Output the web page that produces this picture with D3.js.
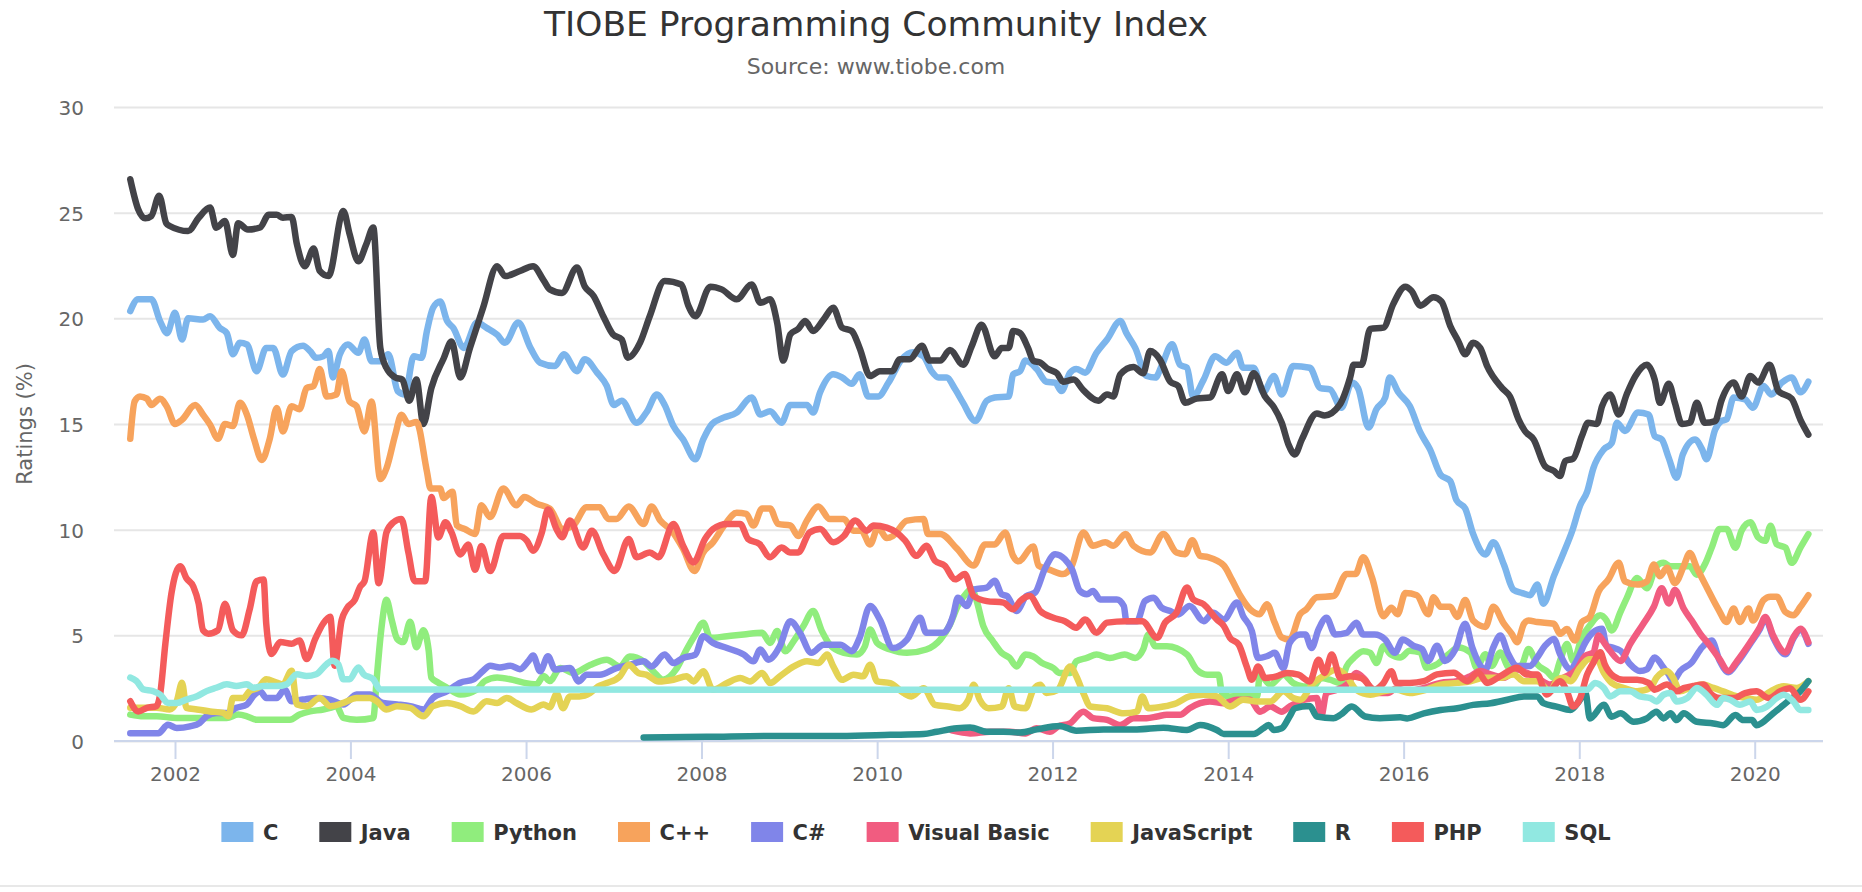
<!DOCTYPE html>
<html><head><meta charset="utf-8">
<script src="https://cdn.jsdelivr.net/npm/d3@7/dist/d3.min.js"></script>
<style>body{margin:0;background:#fff}svg{display:block}text{font-family:"DejaVu Sans",sans-serif}</style>
</head><body><svg id="c" width="1862" height="892"></svg>
<script>
const seriesNames = ["C","Java","Python","C++","C#","Visual Basic","JavaScript","R","PHP","SQL"];
const seriesColors = ["#7cb5ec","#434348","#90ed7d","#f7a35c","#8085e9","#f15c80","#e4d354","#2b908f","#f45b5b","#91e8e1"];
const yTicks = [0,5,10,15,20,25,30];
const xTickYears = [2002,2004,2006,2008,2010,2012,2014,2016,2018,2020];

const cData = [[2001.49,20.34],[2001.58,20.9],[2001.73,20.9],[2001.83,19.87],[2001.91,19.3],[2002.0,20.26],[2002.08,19.0],[2002.15,20.0],[2002.32,19.94],[2002.4,20.1],[2002.51,19.55],[2002.59,19.3],[2002.66,18.3],[2002.74,18.84],[2002.82,18.76],[2002.93,17.5],[2003.04,18.6],[2003.12,18.6],[2003.23,17.34],[2003.33,18.45],[2003.46,18.7],[2003.54,18.45],[2003.61,18.13],[2003.69,18.2],[2003.75,18.45],[2003.8,17.2],[2003.88,18.3],[2003.97,18.76],[2004.09,18.37],[2004.16,19.0],[2004.24,17.97],[2004.34,17.97],[2004.43,18.3],[2004.54,16.55],[2004.62,16.4],[2004.72,18.2],[2004.81,18.13],[2004.87,19.4],[2004.94,20.5],[2005.02,20.8],[2005.1,19.87],[2005.17,19.55],[2005.29,18.6],[2005.44,19.8],[2005.55,19.55],[2005.67,19.23],[2005.76,18.84],[2005.91,19.8],[2006.05,18.6],[2006.16,17.9],[2006.33,17.74],[2006.43,18.3],[2006.58,17.5],[2006.67,18.06],[2006.81,17.43],[2006.92,16.8],[2007.0,15.9],[2007.09,16.1],[2007.26,15.06],[2007.38,15.6],[2007.49,16.4],[2007.58,15.9],[2007.68,14.9],[2007.79,14.27],[2007.93,13.33],[2008.02,14.27],[2008.12,15.0],[2008.25,15.3],[2008.4,15.54],[2008.57,16.25],[2008.67,15.45],[2008.78,15.6],[2008.91,15.06],[2009.01,15.9],[2009.2,15.9],[2009.27,15.54],[2009.35,16.5],[2009.5,17.35],[2009.6,17.2],[2009.71,16.9],[2009.8,17.35],[2009.9,16.3],[2010.01,16.3],[2010.13,16.96],[2010.28,18.06],[2010.41,18.4],[2010.53,18.2],[2010.62,17.5],[2010.7,17.2],[2010.79,17.2],[2010.89,16.64],[2010.98,16.0],[2011.12,15.14],[2011.25,16.1],[2011.34,16.25],[2011.5,16.3],[2011.55,17.35],[2011.63,17.5],[2011.69,18.0],[2011.82,17.6],[2011.93,17.0],[2012.03,16.96],[2012.1,16.56],[2012.2,17.43],[2012.27,17.6],[2012.37,17.43],[2012.5,18.37],[2012.62,19.0],[2012.77,19.87],[2012.84,19.3],[2012.94,18.6],[2013.07,17.27],[2013.17,17.2],[2013.24,17.74],[2013.36,18.77],[2013.45,17.8],[2013.53,17.66],[2013.6,16.3],[2013.72,17.1],[2013.85,18.2],[2013.98,17.9],[2014.1,18.37],[2014.17,17.66],[2014.29,17.66],[2014.4,16.5],[2014.52,17.27],[2014.61,16.4],[2014.74,17.74],[2014.93,17.66],[2015.05,16.7],[2015.16,16.64],[2015.29,15.77],[2015.41,16.96],[2015.48,16.7],[2015.6,14.83],[2015.69,15.7],[2015.79,16.25],[2015.84,17.2],[2015.94,16.5],[2016.07,15.85],[2016.19,14.6],[2016.3,13.8],[2016.42,12.6],[2016.53,12.3],[2016.6,11.4],[2016.7,11.0],[2016.79,9.8],[2016.93,8.83],[2017.02,9.4],[2017.14,8.35],[2017.25,7.15],[2017.35,7.0],[2017.44,6.9],[2017.52,7.4],[2017.59,6.5],[2017.71,7.8],[2017.82,8.9],[2017.92,9.95],[2018.01,11.15],[2018.09,11.8],[2018.16,12.9],[2018.28,13.8],[2018.37,14.1],[2018.43,15.06],[2018.52,14.67],[2018.67,15.54],[2018.79,15.45],[2018.86,14.43],[2018.94,14.27],[2019.02,13.4],[2019.11,12.46],[2019.18,13.56],[2019.32,14.27],[2019.4,13.8],[2019.45,13.33],[2019.55,14.75],[2019.62,15.14],[2019.68,15.22],[2019.76,16.25],[2019.89,16.17],[2019.98,15.77],[2020.1,16.8],[2020.19,16.4],[2020.31,16.96],[2020.42,17.2],[2020.52,16.5],[2020.61,17.0]];

const javaData = [[2001.49,26.58],[2001.58,25.16],[2001.66,24.73],[2001.73,24.84],[2001.82,25.8],[2001.9,24.5],[2001.94,24.37],[2002.15,24.13],[2002.27,24.76],[2002.4,25.24],[2002.47,24.29],[2002.57,24.6],[2002.66,23.0],[2002.72,24.5],[2002.83,24.2],[2002.97,24.3],[2003.07,24.9],[2003.16,24.9],[2003.23,24.76],[2003.33,24.8],[2003.39,23.5],[2003.48,22.47],[2003.58,23.3],[2003.65,22.24],[2003.75,22.0],[2003.92,25.08],[2003.99,24.0],[2004.09,22.7],[2004.18,23.5],[2004.26,24.3],[2004.34,18.6],[2004.41,17.65],[2004.51,17.2],[2004.59,17.1],[2004.67,16.1],[2004.75,17.1],[2004.83,15.0],[2004.92,16.7],[2005.06,18.1],[2005.15,18.9],[2005.25,17.2],[2005.36,18.6],[2005.51,20.5],[2005.67,22.47],[2005.76,22.0],[2005.93,22.24],[2006.08,22.47],[2006.2,21.8],[2006.27,21.37],[2006.41,21.2],[2006.58,22.4],[2006.67,21.5],[2006.77,21.06],[2006.88,20.1],[2006.99,19.24],[2007.09,19.0],[2007.16,18.14],[2007.3,18.85],[2007.41,20.1],[2007.58,21.77],[2007.77,21.6],[2007.85,20.6],[2007.93,20.1],[2008.1,21.5],[2008.23,21.37],[2008.4,20.9],[2008.57,21.6],[2008.67,20.74],[2008.78,20.9],[2008.86,19.8],[2008.93,18.0],[2009.01,19.24],[2009.1,19.5],[2009.18,19.87],[2009.27,19.4],[2009.39,19.95],[2009.5,20.5],[2009.6,19.56],[2009.71,19.4],[2009.8,18.6],[2009.92,17.27],[2010.03,17.5],[2010.17,17.5],[2010.26,18.06],[2010.37,18.06],[2010.51,18.7],[2010.6,18.0],[2010.72,18.0],[2010.83,18.5],[2010.98,17.8],[2011.08,18.7],[2011.19,19.7],[2011.34,18.2],[2011.42,18.6],[2011.5,18.6],[2011.55,19.4],[2011.63,19.3],[2011.72,18.6],[2011.78,18.0],[2011.86,17.9],[2011.95,17.6],[2012.05,17.4],[2012.12,17.0],[2012.24,17.1],[2012.35,16.6],[2012.52,16.1],[2012.62,16.4],[2012.69,16.3],[2012.77,17.35],[2012.92,17.7],[2013.03,17.4],[2013.11,18.45],[2013.22,18.06],[2013.34,17.0],[2013.43,16.8],[2013.51,16.0],[2013.64,16.2],[2013.79,16.25],[2013.93,17.35],[2014.0,16.56],[2014.1,17.35],[2014.19,16.5],[2014.29,17.4],[2014.42,16.3],[2014.52,15.8],[2014.61,15.06],[2014.69,14.0],[2014.76,13.56],[2014.84,14.27],[2015.01,15.5],[2015.1,15.4],[2015.27,15.9],[2015.39,17.2],[2015.43,17.8],[2015.52,17.8],[2015.62,19.5],[2015.77,19.56],[2015.88,20.66],[2016.02,21.5],[2016.09,21.3],[2016.19,20.6],[2016.34,21.0],[2016.43,20.8],[2016.53,19.64],[2016.62,18.93],[2016.7,18.3],[2016.79,18.85],[2016.87,18.6],[2016.95,17.74],[2017.12,16.7],[2017.21,16.3],[2017.31,15.2],[2017.38,14.67],[2017.48,14.27],[2017.61,13.0],[2017.71,12.78],[2017.78,12.54],[2017.84,13.25],[2017.93,13.36],[2018.03,14.43],[2018.1,15.06],[2018.2,15.0],[2018.26,15.85],[2018.35,16.4],[2018.45,15.45],[2018.54,16.4],[2018.64,17.27],[2018.77,17.8],[2018.86,17.1],[2018.92,16.0],[2019.02,16.9],[2019.09,16.0],[2019.17,15.0],[2019.26,15.06],[2019.34,16.0],[2019.43,15.06],[2019.55,15.14],[2019.62,16.1],[2019.76,16.96],[2019.85,16.3],[2019.95,17.27],[2020.04,16.96],[2020.17,17.8],[2020.27,16.56],[2020.42,16.2],[2020.52,15.2],[2020.61,14.5]];

const pythonData = [[2001.49,1.25],[2001.64,1.17],[2001.79,1.17],[2002.02,1.09],[2002.4,1.09],[2002.59,1.09],[2002.72,1.25],[2002.82,1.17],[2002.93,1.0],[2003.16,1.0],[2003.31,1.0],[2003.42,1.25],[2003.54,1.4],[2003.69,1.49],[2003.77,1.57],[2003.84,1.65],[2003.92,1.09],[2004.07,1.0],[2004.26,1.09],[2004.3,3.0],[2004.35,5.24],[2004.41,6.68],[2004.47,5.72],[2004.53,4.84],[2004.6,4.68],[2004.68,5.64],[2004.75,4.44],[2004.83,5.24],[2004.89,4.28],[2004.92,3.0],[2005.0,2.76],[2005.1,2.52],[2005.25,2.2],[2005.44,2.44],[2005.53,2.84],[2005.67,3.0],[2005.82,2.92],[2005.97,2.76],[2006.12,2.68],[2006.2,3.08],[2006.27,2.84],[2006.39,3.45],[2006.54,3.22],[2006.73,3.6],[2006.92,3.85],[2007.07,3.53],[2007.18,4.0],[2007.34,3.77],[2007.45,3.3],[2007.56,2.9],[2007.72,3.45],[2007.83,4.33],[2007.93,5.04],[2008.02,5.6],[2008.1,4.88],[2008.29,4.96],[2008.48,5.04],[2008.69,5.12],[2008.78,4.64],[2008.86,5.2],[2008.95,4.25],[2009.06,4.8],[2009.16,5.44],[2009.27,6.15],[2009.37,5.2],[2009.46,4.56],[2009.62,4.17],[2009.77,4.09],[2009.86,4.48],[2009.92,5.28],[2010.0,4.64],[2010.15,4.33],[2010.34,4.17],[2010.56,4.33],[2010.72,4.8],[2010.83,5.5],[2010.92,6.4],[2011.02,7.0],[2011.08,7.2],[2011.13,6.7],[2011.21,5.44],[2011.32,4.72],[2011.42,4.17],[2011.51,3.93],[2011.59,3.53],[2011.69,4.09],[2011.78,4.0],[2011.88,3.69],[2012.01,3.45],[2012.08,3.22],[2012.2,3.22],[2012.27,3.77],[2012.39,3.93],[2012.5,4.09],[2012.65,3.93],[2012.82,4.09],[2012.94,3.93],[2013.03,4.33],[2013.09,5.04],[2013.17,4.48],[2013.3,4.48],[2013.53,4.09],[2013.64,3.38],[2013.76,3.14],[2013.89,3.14],[2013.93,2.25],[2014.02,2.1],[2014.21,2.18],[2014.33,2.1],[2014.36,3.14],[2014.48,2.66],[2014.63,3.14],[2014.74,2.74],[2014.86,2.58],[2014.97,2.58],[2015.06,2.98],[2015.16,2.9],[2015.28,2.74],[2015.35,3.53],[2015.43,3.93],[2015.54,4.25],[2015.62,4.17],[2015.69,3.69],[2015.77,4.48],[2015.85,4.1],[2015.96,3.95],[2016.07,4.27],[2016.19,4.19],[2016.26,3.47],[2016.38,3.63],[2016.51,4.1],[2016.62,4.43],[2016.76,4.19],[2016.83,3.47],[2016.93,4.1],[2017.0,3.55],[2017.1,4.19],[2017.18,3.55],[2017.25,3.3],[2017.35,3.63],[2017.42,4.35],[2017.52,3.63],[2017.63,3.3],[2017.71,2.99],[2017.78,3.79],[2017.86,4.59],[2017.93,3.79],[2018.03,4.91],[2018.12,5.47],[2018.24,5.95],[2018.31,5.71],[2018.37,5.23],[2018.47,6.11],[2018.54,6.75],[2018.66,7.71],[2018.77,7.23],[2018.88,8.27],[2018.96,8.43],[2019.04,8.27],[2019.15,8.27],[2019.26,8.27],[2019.34,7.87],[2019.44,8.43],[2019.51,9.15],[2019.6,10.03],[2019.68,10.03],[2019.78,9.15],[2019.85,9.95],[2019.95,10.35],[2020.04,9.63],[2020.12,9.47],[2020.18,10.19],[2020.25,9.31],[2020.35,9.15],[2020.42,8.43],[2020.52,9.15],[2020.61,9.79]];

const cppData = [[2001.49,14.3],[2001.54,16.07],[2001.6,16.3],[2001.68,16.2],[2001.73,15.9],[2001.83,16.2],[2001.91,15.8],[2002.0,15.0],[2002.08,15.2],[2002.23,15.9],[2002.32,15.44],[2002.4,14.97],[2002.49,14.3],[2002.57,15.0],[2002.66,14.9],[2002.74,16.0],[2002.82,15.44],[2002.9,14.3],[2002.99,13.3],[2003.08,14.3],[2003.16,15.76],[2003.23,14.65],[2003.33,15.84],[2003.42,15.7],[2003.5,16.7],[2003.58,16.8],[2003.65,17.6],[2003.73,16.3],[2003.84,16.4],[2003.9,17.5],[2003.99,16.07],[2004.07,15.84],[2004.16,14.65],[2004.24,16.07],[2004.34,12.4],[2004.41,12.9],[2004.51,14.5],[2004.58,15.44],[2004.66,15.0],[2004.75,15.1],[2004.87,12.75],[2004.91,11.95],[2005.02,11.95],[2005.06,11.5],[2005.16,11.8],[2005.21,10.2],[2005.3,10.03],[2005.42,9.8],[2005.49,11.15],[2005.59,10.6],[2005.74,11.95],[2005.89,11.15],[2005.98,11.55],[2006.12,11.23],[2006.27,11.0],[2006.42,10.03],[2006.54,10.2],[2006.69,11.06],[2006.84,11.06],[2006.94,10.5],[2007.03,10.5],[2007.17,11.1],[2007.34,10.27],[2007.43,11.1],[2007.53,10.43],[2007.66,9.95],[2007.79,9.1],[2007.92,8.05],[2008.02,8.92],[2008.13,9.4],[2008.27,10.27],[2008.4,10.8],[2008.51,10.75],[2008.59,10.2],[2008.69,11.0],[2008.78,11.0],[2008.87,10.27],[2009.01,10.2],[2009.1,9.7],[2009.2,10.43],[2009.33,11.1],[2009.46,10.5],[2009.62,10.5],[2009.73,9.95],[2009.82,9.95],[2009.92,9.3],[2010.01,10.1],[2010.11,9.6],[2010.18,9.7],[2010.34,10.43],[2010.53,10.5],[2010.58,9.8],[2010.72,9.8],[2010.91,9.1],[2011.1,8.3],[2011.23,9.3],[2011.34,9.3],[2011.46,9.87],[2011.55,8.76],[2011.61,8.5],[2011.78,9.2],[2011.84,8.3],[2011.97,8.1],[2012.12,7.9],[2012.22,8.3],[2012.35,9.87],[2012.46,9.24],[2012.6,9.4],[2012.69,9.24],[2012.83,9.8],[2012.92,9.24],[2013.11,8.92],[2013.26,9.8],[2013.41,8.92],[2013.51,8.84],[2013.59,9.5],[2013.68,8.76],[2013.77,8.7],[2013.95,8.3],[2014.04,7.65],[2014.14,6.86],[2014.25,6.23],[2014.36,6.0],[2014.44,6.47],[2014.53,5.6],[2014.61,4.9],[2014.7,4.8],[2014.82,6.0],[2014.89,6.23],[2015.01,6.8],[2015.2,6.86],[2015.35,7.9],[2015.45,7.9],[2015.54,8.7],[2015.64,7.73],[2015.77,5.9],[2015.86,6.3],[2015.93,6.0],[2016.02,7.0],[2016.15,6.9],[2016.28,6.0],[2016.34,6.8],[2016.42,6.35],[2016.53,6.35],[2016.61,5.87],[2016.7,6.67],[2016.79,5.7],[2016.93,5.4],[2017.02,6.35],[2017.14,5.55],[2017.23,5.07],[2017.29,4.67],[2017.37,5.55],[2017.42,5.7],[2017.52,5.63],[2017.71,5.55],[2017.78,5.07],[2017.86,5.3],[2017.95,4.75],[2018.03,5.63],[2018.12,5.87],[2018.22,7.07],[2018.33,7.63],[2018.45,8.43],[2018.52,7.55],[2018.66,7.4],[2018.77,7.55],[2018.85,8.35],[2018.92,7.8],[2019.0,8.2],[2019.09,7.47],[2019.19,8.27],[2019.26,8.9],[2019.34,8.2],[2019.45,7.3],[2019.59,6.2],[2019.68,5.63],[2019.76,6.27],[2019.83,5.63],[2019.93,6.27],[2019.98,5.7],[2020.1,6.67],[2020.18,6.83],[2020.25,6.83],[2020.35,6.1],[2020.44,5.95],[2020.52,6.35],[2020.61,6.9]];

const csharpData = [[2001.49,0.37],[2001.64,0.37],[2001.81,0.37],[2001.92,0.77],[2002.02,0.61],[2002.17,0.69],[2002.28,0.85],[2002.36,1.17],[2002.47,1.33],[2002.59,1.33],[2002.7,1.57],[2002.82,1.73],[2002.89,2.12],[2002.97,2.36],[2003.04,2.04],[2003.16,2.04],[2003.25,2.44],[2003.33,1.88],[2003.46,1.96],[2003.61,2.04],[2003.77,1.96],[2003.92,1.73],[2004.07,2.2],[2004.22,2.2],[2004.37,1.8],[2004.53,1.73],[2004.68,1.65],[2004.83,1.49],[2004.94,2.04],[2005.1,2.36],[2005.25,2.76],[2005.4,2.92],[2005.51,3.32],[2005.59,3.56],[2005.7,3.48],[2005.82,3.56],[2005.93,3.4],[2006.03,3.8],[2006.08,4.04],[2006.16,3.3],[2006.25,4.01],[2006.33,3.38],[2006.5,3.45],[2006.6,2.82],[2006.69,3.14],[2006.84,3.14],[2007.03,3.45],[2007.18,3.6],[2007.34,3.77],[2007.43,3.53],[2007.58,4.09],[2007.68,3.69],[2007.79,3.93],[2007.93,4.09],[2008.02,4.96],[2008.13,4.64],[2008.29,4.4],[2008.48,4.09],[2008.59,3.77],[2008.67,4.33],[2008.76,3.85],[2008.89,4.48],[2009.01,5.67],[2009.12,5.12],[2009.25,4.17],[2009.39,4.56],[2009.58,4.56],[2009.71,4.25],[2009.8,4.88],[2009.92,6.39],[2010.03,5.75],[2010.18,4.4],[2010.34,4.8],[2010.49,5.83],[2010.56,5.12],[2010.75,5.12],[2010.87,5.99],[2010.92,6.78],[2011.02,6.39],[2011.11,7.18],[2011.25,7.26],[2011.34,7.58],[2011.42,6.94],[2011.48,6.86],[2011.59,6.15],[2011.7,6.86],[2011.8,7.02],[2011.91,8.13],[2012.03,8.84],[2012.14,8.6],[2012.22,8.13],[2012.31,7.1],[2012.39,6.94],[2012.46,7.1],[2012.54,6.7],[2012.73,6.7],[2012.81,6.39],[2012.84,5.67],[2012.96,5.67],[2013.05,6.62],[2013.15,6.78],[2013.24,6.31],[2013.34,6.15],[2013.43,5.99],[2013.56,6.39],[2013.72,5.67],[2013.83,6.07],[2013.95,5.75],[2014.1,6.55],[2014.17,5.91],[2014.27,5.2],[2014.34,3.93],[2014.44,4.01],[2014.53,4.17],[2014.63,3.45],[2014.7,4.64],[2014.82,5.04],[2014.88,5.04],[2014.95,4.4],[2015.03,5.28],[2015.12,5.83],[2015.22,5.04],[2015.35,5.12],[2015.46,5.6],[2015.54,5.04],[2015.67,5.04],[2015.79,4.8],[2015.9,4.17],[2015.99,4.8],[2016.11,4.51],[2016.21,4.35],[2016.28,3.79],[2016.38,4.51],[2016.47,3.79],[2016.59,4.35],[2016.7,5.55],[2016.78,4.43],[2016.93,3.39],[2017.02,4.43],[2017.1,4.99],[2017.19,4.11],[2017.29,3.55],[2017.44,3.55],[2017.52,3.95],[2017.61,4.51],[2017.71,4.83],[2017.78,4.11],[2017.9,3.39],[2017.97,3.79],[2018.07,4.67],[2018.16,5.15],[2018.26,5.31],[2018.31,4.51],[2018.37,4.43],[2018.47,4.27],[2018.58,3.63],[2018.69,3.31],[2018.77,3.39],[2018.86,3.95],[2018.96,3.47],[2019.02,3.15],[2019.07,2.83],[2019.15,3.31],[2019.28,3.71],[2019.4,4.43],[2019.51,4.75],[2019.6,3.8],[2019.7,3.25],[2019.8,3.7],[2019.95,4.6],[2020.06,5.3],[2020.12,5.8],[2020.21,4.9],[2020.35,4.1],[2020.44,4.85],[2020.52,5.25],[2020.61,4.6]];

const vbData = [[2010.85,0.5],[2011.06,0.36],[2011.29,0.44],[2011.51,0.44],[2011.69,0.36],[2011.82,0.6],[2011.97,0.44],[2012.06,0.68],[2012.2,0.84],[2012.35,1.39],[2012.46,1.08],[2012.62,1.0],[2012.77,0.76],[2012.92,1.08],[2013.07,1.08],[2013.19,1.16],[2013.3,1.24],[2013.45,1.24],[2013.56,1.55],[2013.68,1.79],[2013.79,1.87],[2013.95,1.79],[2014.1,1.95],[2014.25,1.95],[2014.36,1.39],[2014.48,1.63],[2014.61,1.39],[2014.7,1.63],[2014.86,1.95],[2015.01,2.03],[2015.06,1.16],[2015.12,2.27],[2015.24,2.42],[2015.35,2.66],[2015.46,3.22],[2015.56,2.9],[2015.67,2.27],[2015.82,2.27],[2015.92,2.5],[2016.04,2.35],[2016.23,2.51],[2016.42,2.75],[2016.61,2.83],[2016.76,3.07],[2016.87,3.31],[2016.99,3.15],[2017.14,2.99],[2017.29,3.39],[2017.4,3.23],[2017.52,2.99],[2017.67,2.67],[2017.82,2.99],[2017.97,3.39],[2018.07,4.03],[2018.16,4.19],[2018.22,4.99],[2018.28,4.67],[2018.35,4.27],[2018.47,3.79],[2018.58,4.59],[2018.73,5.55],[2018.85,6.35],[2018.94,7.23],[2019.02,6.51],[2019.09,7.15],[2019.19,6.27],[2019.28,5.71],[2019.38,5.07],[2019.49,4.51],[2019.6,3.87],[2019.7,3.31],[2019.8,3.79],[2019.95,4.67],[2020.06,5.39],[2020.12,5.87],[2020.21,4.99],[2020.35,4.19],[2020.44,4.91],[2020.52,5.31],[2020.61,4.67]];

const jsData = [[2001.49,1.57],[2001.64,1.57],[2001.79,1.57],[2001.94,1.49],[2002.02,1.88],[2002.08,2.76],[2002.13,1.57],[2002.25,1.49],[2002.4,1.4],[2002.55,1.33],[2002.61,1.17],[2002.66,2.04],[2002.78,2.04],[2002.85,2.36],[2002.95,2.52],[2003.04,2.92],[2003.16,2.76],[2003.23,2.68],[2003.33,3.32],[2003.39,1.73],[2003.5,1.65],[2003.65,2.04],[2003.77,1.65],[2003.92,1.8],[2004.07,2.04],[2004.22,2.04],[2004.3,1.88],[2004.41,1.49],[2004.53,1.65],[2004.68,1.57],[2004.83,1.17],[2004.94,1.65],[2005.1,1.8],[2005.25,1.65],[2005.4,1.4],[2005.55,1.88],[2005.67,1.8],[2005.78,2.04],[2005.89,1.8],[2006.06,1.49],[2006.2,1.73],[2006.27,1.6],[2006.35,2.24],[2006.42,1.55],[2006.5,2.11],[2006.61,2.11],[2006.73,2.27],[2006.82,2.58],[2006.92,2.74],[2007.07,3.06],[2007.17,3.61],[2007.28,3.22],[2007.37,3.14],[2007.51,2.82],[2007.68,2.9],[2007.83,3.06],[2007.91,2.82],[2008.02,3.3],[2008.13,2.42],[2008.29,2.74],[2008.44,2.98],[2008.55,2.82],[2008.69,3.22],[2008.78,2.74],[2008.89,3.06],[2009.05,3.53],[2009.2,3.77],[2009.33,3.69],[2009.43,4.09],[2009.5,3.53],[2009.6,2.9],[2009.73,3.14],[2009.84,3.06],[2009.92,3.61],[2010.0,2.82],[2010.15,2.74],[2010.3,2.27],[2010.39,2.11],[2010.53,2.5],[2010.66,1.71],[2010.81,1.63],[2010.94,1.55],[2011.04,1.95],[2011.1,2.66],[2011.17,1.95],[2011.27,1.55],[2011.42,1.63],[2011.5,2.5],[2011.57,1.63],[2011.69,1.55],[2011.78,2.42],[2011.86,2.66],[2011.93,2.27],[2012.06,2.42],[2012.2,3.53],[2012.27,3.06],[2012.35,2.27],[2012.43,1.63],[2012.62,1.55],[2012.81,1.31],[2012.96,1.39],[2013.02,2.11],[2013.09,1.55],[2013.26,1.63],[2013.41,1.79],[2013.56,2.11],[2013.72,2.19],[2013.87,2.11],[2014.02,1.63],[2014.17,1.95],[2014.33,1.87],[2014.48,1.87],[2014.63,2.35],[2014.74,2.03],[2014.82,1.95],[2014.97,2.74],[2015.08,3.06],[2015.24,3.38],[2015.35,3.06],[2015.46,2.42],[2015.62,2.19],[2015.77,2.35],[2015.92,2.42],[2016.07,2.27],[2016.26,2.43],[2016.42,2.67],[2016.61,2.75],[2016.76,2.83],[2016.91,2.99],[2017.1,2.99],[2017.25,3.15],[2017.37,2.83],[2017.52,2.83],[2017.67,2.35],[2017.75,2.91],[2017.82,2.99],[2017.9,2.83],[2018.01,3.47],[2018.11,3.87],[2018.2,3.87],[2018.28,3.23],[2018.37,2.75],[2018.51,2.51],[2018.66,2.35],[2018.81,2.51],[2018.88,2.99],[2019.0,3.31],[2019.07,2.99],[2019.15,2.35],[2019.26,2.51],[2019.4,2.67],[2019.53,2.51],[2019.64,2.35],[2019.8,2.11],[2019.91,2.03],[2020.02,1.95],[2020.18,2.35],[2020.33,2.59],[2020.48,2.51],[2020.61,2.83]];

const rData = [[2007.34,0.17],[2008.06,0.2],[2008.82,0.24],[2009.58,0.24],[2010.15,0.29],[2010.53,0.33],[2010.68,0.44],[2010.91,0.6],[2011.06,0.64],[2011.25,0.44],[2011.44,0.44],[2011.63,0.4],[2011.82,0.55],[2012.08,0.71],[2012.27,0.49],[2012.58,0.55],[2012.96,0.55],[2013.26,0.63],[2013.53,0.52],[2013.68,0.76],[2013.87,0.52],[2013.95,0.33],[2014.29,0.33],[2014.4,0.6],[2014.46,0.76],[2014.52,0.52],[2014.61,0.6],[2014.7,1.16],[2014.76,1.55],[2014.93,1.66],[2015.01,1.16],[2015.2,1.08],[2015.28,1.24],[2015.41,1.63],[2015.56,1.16],[2015.73,1.08],[2015.96,1.12],[2016.04,1.07],[2016.23,1.31],[2016.42,1.47],[2016.61,1.55],[2016.79,1.71],[2016.99,1.79],[2017.18,1.95],[2017.37,2.11],[2017.52,2.11],[2017.59,1.79],[2017.74,1.63],[2017.9,1.47],[2018.0,1.9],[2018.07,2.3],[2018.12,1.07],[2018.28,1.71],[2018.37,1.15],[2018.47,1.31],[2018.62,0.91],[2018.77,1.07],[2018.88,1.39],[2018.96,1.07],[2019.04,1.31],[2019.11,0.99],[2019.19,1.31],[2019.34,0.91],[2019.53,0.83],[2019.64,0.75],[2019.78,1.23],[2019.87,0.99],[2019.97,0.99],[2020.02,0.75],[2020.21,1.31],[2020.4,1.95],[2020.52,2.35],[2020.61,2.83]];

const phpData = [[2001.49,1.88],[2001.58,1.4],[2001.68,1.57],[2001.79,1.65],[2001.83,2.2],[2001.89,4.6],[2001.96,7.0],[2002.06,8.27],[2002.13,7.7],[2002.21,7.3],[2002.27,6.5],[2002.32,5.24],[2002.38,5.08],[2002.49,5.24],[2002.57,6.5],[2002.66,5.24],[2002.76,5.0],[2002.85,6.2],[2002.93,7.56],[2003.01,7.64],[2003.04,5.56],[2003.1,4.12],[2003.2,4.68],[2003.33,4.6],[2003.42,4.76],[2003.5,3.88],[2003.6,4.84],[2003.69,5.56],[2003.77,5.88],[2003.82,3.56],[2003.9,5.72],[2003.96,6.28],[2004.05,6.68],[2004.11,7.3],[2004.16,7.56],[2004.26,9.87],[2004.32,7.47],[2004.41,9.87],[2004.49,10.35],[2004.58,10.5],[2004.66,8.9],[2004.73,7.56],[2004.85,7.56],[2004.92,11.55],[2005.0,9.63],[2005.08,10.35],[2005.15,9.87],[2005.25,8.83],[2005.34,9.3],[2005.42,8.1],[2005.49,9.23],[2005.59,8.04],[2005.74,9.7],[2005.93,9.7],[2006.01,9.47],[2006.08,9.0],[2006.18,9.87],[2006.25,10.95],[2006.35,10.0],[2006.41,9.64],[2006.5,10.43],[2006.65,9.16],[2006.75,9.95],[2006.88,8.84],[2007.01,8.05],[2007.17,9.56],[2007.26,8.7],[2007.41,8.92],[2007.51,8.7],[2007.68,10.27],[2007.79,9.24],[2007.91,8.45],[2008.04,9.56],[2008.13,10.03],[2008.29,10.27],[2008.44,10.27],[2008.53,9.56],[2008.66,9.32],[2008.78,8.7],[2008.91,9.16],[2009.01,8.92],[2009.1,8.92],[2009.23,9.87],[2009.35,10.03],[2009.5,9.4],[2009.62,9.7],[2009.75,10.43],[2009.88,9.95],[2009.96,10.2],[2010.11,10.1],[2010.22,9.87],[2010.32,9.48],[2010.45,8.76],[2010.56,9.24],[2010.66,8.53],[2010.77,8.3],[2010.89,7.65],[2011.0,7.9],[2011.1,6.86],[2011.25,6.62],[2011.44,6.55],[2011.55,6.23],[2011.63,6.62],[2011.74,6.86],[2011.86,6.15],[2012.01,5.83],[2012.14,5.67],[2012.27,5.36],[2012.37,5.75],[2012.5,5.12],[2012.62,5.6],[2012.84,5.67],[2013.02,5.67],[2013.19,4.88],[2013.28,5.6],[2013.41,6.07],[2013.53,7.26],[2013.6,6.7],[2013.72,6.47],[2013.87,5.75],[2013.95,5.44],[2014.02,4.88],[2014.12,4.56],[2014.21,3.53],[2014.27,2.9],[2014.34,3.53],[2014.42,2.98],[2014.55,3.06],[2014.67,3.22],[2014.8,3.14],[2014.93,2.82],[2015.03,3.85],[2015.1,3.22],[2015.18,4.09],[2015.28,2.98],[2015.39,3.06],[2015.52,2.98],[2015.67,2.43],[2015.77,2.74],[2015.86,3.3],[2015.92,2.75],[2016.07,2.75],[2016.23,2.83],[2016.38,3.15],[2016.57,3.23],[2016.72,2.83],[2016.85,3.23],[2016.95,2.75],[2017.1,3.07],[2017.29,3.47],[2017.4,3.15],[2017.52,3.15],[2017.63,2.2],[2017.78,2.83],[2017.86,2.35],[2017.93,1.63],[2018.01,2.03],[2018.09,3.15],[2018.16,3.7],[2018.24,4.2],[2018.29,3.63],[2018.39,3.07],[2018.5,2.9],[2018.66,2.9],[2018.79,2.75],[2018.86,2.43],[2019.0,2.67],[2019.11,2.35],[2019.19,2.5],[2019.3,2.6],[2019.42,2.67],[2019.49,2.27],[2019.6,2.03],[2019.76,2.03],[2019.89,2.27],[2020.02,2.35],[2020.16,2.03],[2020.29,2.35],[2020.4,2.5],[2020.52,1.95],[2020.61,2.35]];

const sqlData = [[2001.49,3.0],[2001.56,2.84],[2001.64,2.44],[2001.75,2.36],[2001.83,2.2],[2001.92,1.8],[2002.02,1.8],[2002.13,1.96],[2002.25,2.12],[2002.36,2.36],[2002.47,2.52],[2002.59,2.68],[2002.7,2.6],[2002.82,2.68],[2002.89,2.52],[2003.01,2.6],[2003.16,2.6],[2003.27,2.68],[2003.39,3.16],[2003.5,3.08],[2003.61,3.16],[2003.73,3.64],[2003.79,3.8],[2003.86,3.64],[2003.92,2.92],[2003.99,2.92],[2004.09,3.48],[2004.15,3.16],[2004.26,2.92],[2004.34,2.44],[2018.09,2.42],[2018.18,2.75],[2018.28,2.51],[2018.35,2.11],[2018.47,2.35],[2018.58,2.35],[2018.69,2.11],[2018.81,2.03],[2018.88,1.87],[2018.96,2.19],[2019.04,2.27],[2019.11,1.87],[2019.23,2.03],[2019.34,2.51],[2019.45,2.19],[2019.57,1.71],[2019.64,2.03],[2019.72,1.95],[2019.83,1.71],[2019.95,1.87],[2020.02,1.47],[2020.14,1.63],[2020.25,2.03],[2020.33,2.19],[2020.44,1.87],[2020.52,1.47],[2020.61,1.47]];

const allData = [cData, javaData, pythonData, cppData, csharpData, vbData, jsData, rData, phpData, sqlData];

// ---- rendering ----
function dy(t){const y=Math.floor(t);const s=new Date(y,0,1).getTime(),e=new Date(y+1,0,1).getTime();return new Date(s+(t-y)*(e-s));}

const svg = d3.select("#c");
const W = 1862;
const plot = {left:114, right:1823, top:107, bottom:741};

const x = d3.scaleTime().domain([new Date(2002,0,1), new Date(2020,0,1)]).range([175, 1754.7]);
const y = d3.scaleLinear().domain([0,30]).range([plot.bottom, plot.top]);

svg.append("rect").attr("width",W).attr("height",892).attr("fill","#fff");

// title
svg.append("text").attr("x",876).attr("y",36).attr("text-anchor","middle")
  .attr("font-size",34.5).attr("fill","#333333").text("TIOBE Programming Community Index");
svg.append("text").attr("x",876).attr("y",74).attr("text-anchor","middle")
  .attr("font-size",22).attr("fill","#666666").text("Source: www.tiobe.com");

// y axis + grid
const yAxis = d3.axisLeft(y).tickValues(yTicks).tickSize(-(plot.right-plot.left)).tickPadding(30);
const gy = svg.append("g").attr("transform",`translate(${plot.left},0)`).call(yAxis);
gy.select(".domain").remove();
gy.selectAll(".tick line").attr("stroke","#e6e6e6").attr("stroke-width",2);
gy.selectAll(".tick text").attr("font-size",20).attr("fill","#666666").attr("font-family","DejaVu Sans").attr("dy","0.38em");

// y title
svg.append("text").attr("transform","translate(32,424) rotate(-90)").attr("text-anchor","middle")
  .attr("font-size",21).attr("fill","#666666").text("Ratings (%)");

// x axis
const xAxis = d3.axisBottom(x).tickValues(xTickYears.map(yr=>new Date(yr,0,1))).tickFormat(d3.timeFormat("%Y")).tickSize(18);
const gx = svg.append("g").attr("transform",`translate(0,${plot.bottom})`).call(xAxis);
gx.select(".domain").remove();
gx.selectAll(".tick line").attr("stroke","#ccd6eb").attr("stroke-width",2);
gx.selectAll(".tick text").attr("font-size",20).attr("fill","#666666").attr("font-family","DejaVu Sans").attr("y",40).attr("dy","0");
svg.append("line").attr("x1",plot.left).attr("x2",plot.right).attr("y1",plot.bottom).attr("y2",plot.bottom)
  .attr("stroke","#ccd6eb").attr("stroke-width",2);

// lines
const line = d3.line().x(d=>x(dy(d[0]))).y(d=>y(d[1])).curve(d3.curveMonotoneX);
const gl = svg.append("g");
allData.forEach((data,i)=>{
  gl.append("path").datum(data).attr("d",line).attr("fill","none")
    .attr("stroke",seriesColors[i]).attr("stroke-width",6.5)
    .attr("stroke-linejoin","round").attr("stroke-linecap","round");
});

// legend
const lg = svg.append("g");
let cx = 0;
const items = [];
seriesNames.forEach((name,i)=>{
  const g = lg.append("g");
  g.append("rect").attr("x",0).attr("y",-10).attr("width",32).attr("height",20).attr("fill",seriesColors[i]);
  const t = g.append("text").attr("x",41.5).attr("y",7.5).attr("font-size",21).attr("font-weight","bold")
    .attr("fill","#333333").text(name);
  const w = t.node().getComputedTextLength();
  items.push([g,cx]);
  cx += 41.5 + w + 41;
});
const total = cx - 41;
const start = 916 - total/2;
items.forEach(([g,ox])=>g.attr("transform",`translate(${start+ox},832)`));

// bottom border of container
svg.append("line").attr("x1",0).attr("x2",W).attr("y1",886).attr("y2",886)
  .attr("stroke","#e0e0e0").attr("stroke-width",1.5);
</script>
</body></html>
